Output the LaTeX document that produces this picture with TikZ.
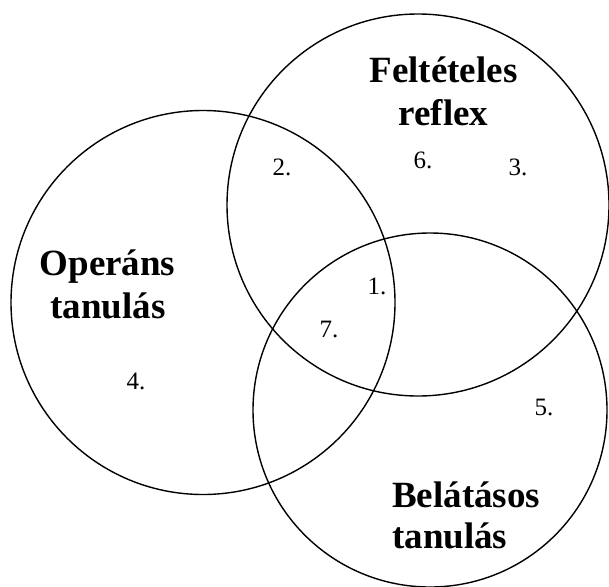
\documentclass[tikz,border=0pt]{standalone}
\usepackage{fontspec}
\setmainfont{Liberation Serif}
\begin{document}
\begin{tikzpicture}[x=1pt,y=-1pt,
  ring/.style={draw=black,line width=1.4pt},
  title/.style={font=\fontsize{37}{43}\selectfont\bfseries,inner sep=0pt,anchor=base},
  num/.style={font=\fontsize{25}{28}\selectfont,inner sep=0pt}]
\useasboundingbox[fill=white] (0,0) rectangle (609,586);
\coordinate (cA) at (418,205);
\coordinate (cB) at (203,302.5);
\coordinate (cC) at (430,410);
\draw[ring] (cA) circle [radius=191pt];
\draw[ring] (cB) circle [radius=192pt];
\draw[ring] (cC) circle [radius=177pt];
\node[title] (fa1) at (443.5,82) {Feltételes};
\node[title] (fa2) at (443.5,125) {reflex};
\node[title] (op1) at (107.5,275) {Operáns};
\node[title] (op2) at (108,318) {tanulás};
\node[title,anchor=base west] (be1) at (392,507) {Belátásos};
\node[title,anchor=base west] (be2) at (392,548) {tanulás};
\node[num] (n1) at (377,286) {1.};
\node[num] (n2) at (282,167) {2.};
\node[num] (n3) at (518,167) {3.};
\node[num] (n4) at (136,381) {4.};
\node[num] (n5) at (544,407) {5.};
\node[num] (n6) at (423,160) {6.};
\node[num] (n7) at (329,329) {7.};
\end{tikzpicture}
\end{document}
